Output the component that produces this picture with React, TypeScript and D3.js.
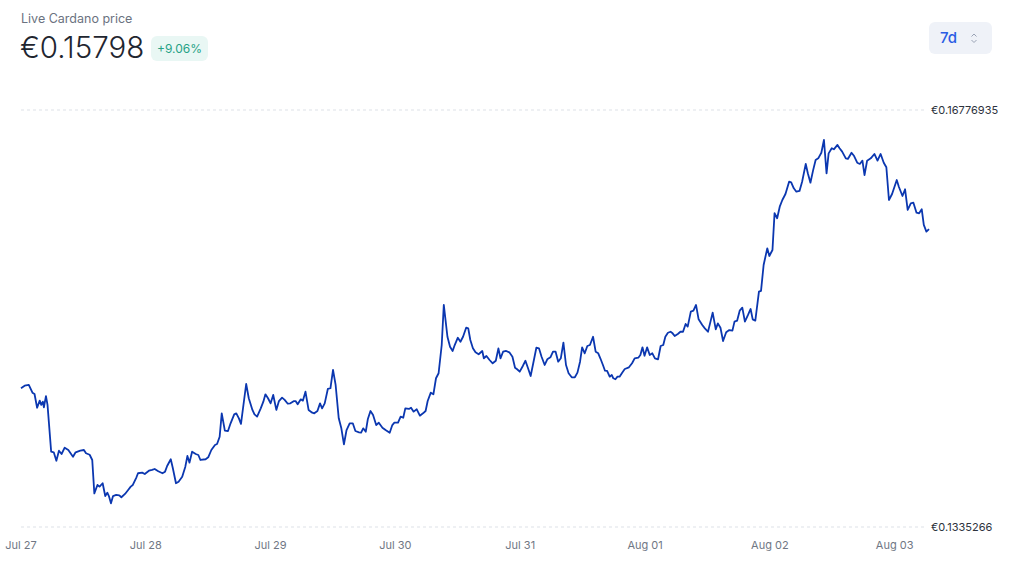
import * as d3 from "d3";

// hours since Jul 27 00:00
const startDate = new Date(2020, 6, 27, 0, 0);
const hours = [
  0, 0.7, 1.5, 2.2, 2.6, 3.1, 3.6, 3.9, 4.2, 4.4, 4.8, 5.1, 5.8, 6.3, 6.8, 7.3, 7.8, 8.4, 9.1, 10.0,
  10.5, 11.4, 12.1, 12.5, 13.2, 13.7, 14.1, 14.7, 15.1, 15.7, 16.2, 16.6, 16.9, 17.3, 17.7, 18.3, 18.9, 19.3, 20.0, 20.6,
  21.1, 21.5, 22.2, 22.5, 23.3, 23.8, 24.6, 25.2, 25.7, 26.4, 27.2, 27.7, 28.1, 28.8, 29.2, 29.8, 30.3, 31.0, 31.6, 32.0,
  32.4, 32.9, 33.6, 34.1, 34.5, 35.5, 36.0, 36.6, 37.3, 37.7, 38.2, 38.6, 39.2, 39.8, 40.3, 41.0, 41.4, 41.9, 42.3, 43.3,
  43.8, 44.5, 44.9, 45.4, 46.1, 46.6, 47.0, 47.5, 48.0, 48.5, 49.1, 49.6, 50.2, 50.7, 51.3, 51.8, 52.5, 52.8, 53.2, 53.8,
  54.2, 54.7, 55.3, 56.0, 56.4, 57.0, 57.5, 57.9, 58.4, 59.0, 59.5, 60.0, 60.5, 61.1, 61.6, 62.1, 62.6, 63.2, 63.8, 64.3,
  65.0, 65.4, 65.8, 66.3, 66.7, 67.2, 67.7, 68.3, 68.8, 69.5, 70.1, 70.9, 71.4, 71.8, 72.5, 73.0, 73.5, 73.9, 74.6, 75.0,
  75.5, 76.1, 76.7, 77.3, 77.8, 78.2, 78.8, 79.3, 79.8, 80.3, 80.9, 81.3, 82.0, 82.5, 83.0, 83.4, 84.0, 84.5, 85.0, 85.6,
  86.0, 86.4, 86.9, 87.4, 88.0, 88.7, 89.0, 89.5, 90.1, 90.7, 91.3, 91.8, 92.2, 92.7, 93.3, 93.9, 94.5, 95.0, 95.4, 95.9,
  96.5, 97.0, 97.5, 98.0, 98.5, 99.1, 99.6, 100.1, 100.7, 101.2, 101.8, 102.3, 102.8, 103.3, 103.8, 104.3, 104.8, 105.3, 105.9, 106.5,
  107.0, 107.5, 107.9, 108.4, 108.9, 109.4, 110.0, 110.5, 111.0, 111.4, 111.9, 112.3, 112.7, 113.2, 113.6, 113.9, 114.3, 114.7, 115.1, 115.6,
  116.1, 116.9, 117.5, 118.0, 118.7, 119.1, 119.5, 119.9, 120.4, 120.9, 121.4, 121.9, 122.5, 123.0, 123.5, 123.9, 124.4, 124.9, 125.3, 125.7,
  126.3, 126.8, 127.3, 127.8, 128.2, 128.8, 129.3, 129.8, 130.3, 131.0, 131.5, 132.1, 132.5, 133.0, 133.6, 134.0, 134.5, 135.0, 135.6, 136.2,
  136.8, 137.2, 137.7, 138.2, 138.7, 139.2, 139.8, 140.3, 140.7, 141.2, 141.9, 142.3, 142.8, 143.5, 143.9, 144.5, 144.9, 145.4, 145.9, 146.4,
  147.0, 147.7, 148.1, 148.6, 149.1, 149.7, 150.2, 150.9, 151.3, 151.8, 152.3, 152.8, 153.3, 153.9, 154.4, 154.9, 155.3, 155.9, 156.3, 157.0,
  157.4, 157.9, 158.6, 159.0, 159.7, 160.2, 160.8, 161.3, 161.8, 162.2, 162.7, 163.4, 164.1, 164.7, 165.3, 165.9, 166.4, 166.9, 167.5, 168.4,
  168.8, 169.5, 170.0, 170.5, 171.1, 171.6, 172.2, 172.7, 173.2, 173.6, 174.1, 174.6,
];
const prices = [
  0.14492, 0.14513, 0.14519, 0.14456, 0.14445, 0.14332, 0.1439, 0.14355, 0.14382, 0.14336, 0.14428, 0.14355, 0.13971, 0.13966, 0.13897, 0.13979, 0.13952, 0.14004, 0.13985, 0.1393,
  0.13966, 0.13979, 0.13985, 0.13958, 0.13946, 0.13903, 0.13629, 0.13698, 0.13684, 0.13712, 0.13607, 0.13634, 0.13607, 0.13547, 0.13607, 0.13616, 0.13613, 0.13597, 0.13624, 0.13657,
  0.13684, 0.13698, 0.13761, 0.13794, 0.13799, 0.13788, 0.13815, 0.13821, 0.13829, 0.1381, 0.13794, 0.13807, 0.13854, 0.13909, 0.13835, 0.13712, 0.13725, 0.13766, 0.13848, 0.13936,
  0.13881, 0.13971, 0.13952, 0.13944, 0.13903, 0.13909, 0.13925, 0.13985, 0.14026, 0.14034, 0.14094, 0.14286, 0.14144, 0.14141, 0.14204, 0.14278, 0.14286, 0.14245, 0.14199, 0.14527,
  0.1441, 0.14314, 0.14278, 0.14259, 0.14327, 0.14382, 0.14442, 0.1441, 0.14368, 0.14437, 0.14314, 0.14387, 0.14415, 0.14396, 0.14365, 0.14368, 0.14387, 0.14387, 0.1436, 0.14401,
  0.1439, 0.14464, 0.14314, 0.14291, 0.14286, 0.14305, 0.14368, 0.14327, 0.14368, 0.14486, 0.14492, 0.14642, 0.14519, 0.14245, 0.14163, 0.14032, 0.14149, 0.14204, 0.14204, 0.14141,
  0.1413, 0.14127, 0.14163, 0.14135, 0.1424, 0.14305, 0.14272, 0.1419, 0.14209, 0.14168, 0.14149, 0.14127, 0.1419, 0.14209, 0.14209, 0.14259, 0.1425, 0.14327, 0.14322, 0.14332,
  0.143, 0.14319, 0.14267, 0.14286, 0.14305, 0.14387, 0.14456, 0.14442, 0.14574, 0.14615, 0.14847, 0.15176, 0.14915, 0.14833, 0.14798, 0.14847, 0.14907, 0.14874, 0.14915, 0.14989,
  0.14984, 0.14888, 0.1482, 0.14787, 0.14771, 0.14798, 0.14738, 0.14757, 0.14724, 0.14697, 0.14718, 0.1482, 0.14738, 0.14792, 0.14798, 0.14787, 0.14751, 0.14661, 0.14648, 0.14628,
  0.14675, 0.14718, 0.14656, 0.14593, 0.14697, 0.14825, 0.1482, 0.14751, 0.14683, 0.1473, 0.14746, 0.14792, 0.14792, 0.1471, 0.14738, 0.14866, 0.14683, 0.14615, 0.14582, 0.14582,
  0.1462, 0.1471, 0.14828, 0.14779, 0.14839, 0.14847, 0.14915, 0.14792, 0.14779, 0.14738, 0.14683, 0.14636, 0.14634, 0.14587, 0.14601, 0.14574, 0.14566, 0.14587, 0.14587, 0.1462,
  0.1465, 0.14664, 0.14697, 0.14738, 0.14743, 0.14765, 0.14828, 0.14759, 0.14828, 0.14765, 0.14779, 0.14738, 0.1473, 0.14839, 0.14847, 0.14915, 0.14948, 0.14956, 0.14943, 0.14921,
  0.14938, 0.14956, 0.14956, 0.1502, 0.14998, 0.15121, 0.15129, 0.15176, 0.15058, 0.15012, 0.14984, 0.14956, 0.15025, 0.15113, 0.14976, 0.15025, 0.14989, 0.1488, 0.14952, 0.1497,
  0.14965, 0.15039, 0.15047, 0.15129, 0.15154, 0.15039, 0.15094, 0.15143, 0.15058, 0.15047, 0.15285, 0.15291, 0.15504, 0.15641, 0.15578, 0.15627, 0.15929, 0.15888, 0.15983, 0.16038,
  0.16087, 0.16188, 0.16183, 0.16134, 0.16106, 0.16112, 0.16188, 0.16334, 0.16257, 0.1618, 0.16279, 0.16366, 0.1638, 0.16426, 0.16531, 0.16257, 0.16421, 0.16463, 0.16454, 0.1649,
  0.16463, 0.16435, 0.1638, 0.16375, 0.16426, 0.16399, 0.16344, 0.16334, 0.16361, 0.16243, 0.16361, 0.1638, 0.16416, 0.16361, 0.16416, 0.16344, 0.16307, 0.16038, 0.16087, 0.16202,
  0.16147, 0.16071, 0.16126, 0.15956, 0.16011, 0.16016, 0.15934, 0.15929, 0.15962, 0.15833, 0.15778, 0.15798,
];
const priceTicks = [0.16776935, 0.1335266];
const priceTickLabels = ["€0.16776935", "€0.1335266"];
const currentPrice = "€0.15798";
const change = "+9.06%";

const font = "Inter, 'Noto Sans', sans-serif";

export default function App() {
  const width = 1015;
  const height = 563;

  const data = hours.map((h, i) => ({
    date: new Date(startDate.getTime() + h * 3600 * 1000),
    price: prices[i],
  }));
  const endDate = data[data.length - 1].date;

  const x = d3.scaleTime().domain([startDate, endDate]).range([21, 929]);
  const y = d3
    .scaleLinear()
    .domain([priceTicks[1], priceTicks[0]])
    .range([527, 110]);

  const line = d3
    .line<{ date: Date; price: number }>()
    .x((d) => x(d.date))
    .y((d) => y(d.price));

  const dayTicks = d3.timeDay.range(startDate, endDate);
  const fmt = d3.timeFormat("%b %d");

  return (
    <div style={{ position: "absolute", left: 0, top: 0 }}>
      <svg width={width} height={height} style={{ display: "block", fontFamily: font }}>
        <rect width={width} height={height} fill="#ffffff" />

        {/* header */}
        <text x={21} y={23} fontSize={12.5} fill="#6b7280">
          Live Cardano price
        </text>
        <text x={20} y={58} fontSize={29.5} fill="#1f2630" fontWeight={300}>
          {currentPrice}
        </text>
        <rect x={151} y={36} width={57} height={25} rx={6} fill="#e9f7f4" />
        <text x={179.5} y={52.5} fontSize={12} fill="#26a286" textAnchor="middle">
          {change}
        </text>

        {/* range selector */}
        <rect x={929} y={22} width={63} height={32} rx={6} fill="#eff2f8" />
        <text x={940} y={43} fontSize={15} fill="#2a5ce4" fontWeight={500}>
          7d
        </text>
        <path d="M971.5 36.5 L974 34 L976.5 36.5 M971.5 40 L974 42.5 L976.5 40" fill="none" stroke="#9aa3b5" strokeWidth={1} />

        {/* grid */}
        {priceTicks.map((t, i) => (
          <g key={i}>
            <line
              x1={21}
              x2={925}
              y1={y(t)}
              y2={y(t)}
              stroke="#dde1e7"
              strokeWidth={1}
              strokeDasharray="3 3"
            />
            <text x={931} y={y(t) + 4} fontSize={11} fill="#2d333d">
              {priceTickLabels[i]}
            </text>
          </g>
        ))}

        {/* x axis labels */}
        {dayTicks.map((d, i) => (
          <text key={i} x={x(d)} y={549} fontSize={11} fill="#707784" textAnchor="middle">
            {fmt(d)}
          </text>
        ))}

        <path d={line(data) ?? ""} fill="none" stroke="#0b37b0" strokeWidth={1.8} strokeLinejoin="round" />
      </svg>
    </div>
  );
}
